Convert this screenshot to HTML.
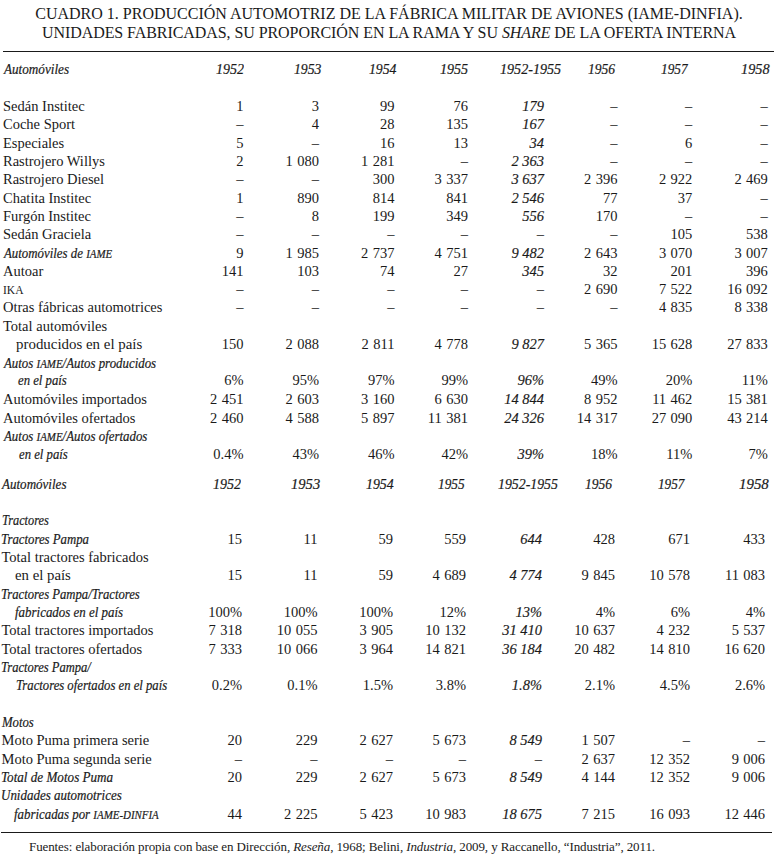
<!DOCTYPE html>
<html><head><meta charset="utf-8"><style>
html,body{margin:0;padding:0;background:#fff;}
body{width:778px;height:862px;position:relative;overflow:hidden;color:#1a1a1a;font-family:"Liberation Serif",serif;}
div{position:absolute;white-space:nowrap;line-height:1;}
.t{left:0;width:778px;text-align:center;font-size:16px;}
.rule{height:0;border-top:1.5px solid #1a1a1a;}
.lab{font-size:14.5px;}
.it{font-style:italic;}
.num{font-size:14.5px;text-align:right;}
.sc{font-size:12.3px;}
.sx{display:inline-block;transform-origin:0 0;}
.ts{letter-spacing:0.8px;}
.tsi{letter-spacing:0px;}
.sxr{-webkit-text-stroke:0.15px #1a1a1a;}
.it{-webkit-text-stroke:0.2px #1a1a1a;}
.foot{left:29px;font-size:13px;letter-spacing:-0.1px;}
</style></head><body>
<div class="t" style="top:5.66px">CUADRO 1. PRODUCCIÓN AUTOMOTRIZ DE LA FÁBRICA MILITAR DE AVIONES (IAME-DINFIA).</div>
<div class="t" style="top:24.66px;letter-spacing:-0.07px">UNIDADES FABRICADAS, SU PROPORCIÓN EN LA RAMA Y SU <i>SHARE</i> DE LA OFERTA INTERNA</div>
<div class="rule" style="top:50.6px;left:3px;width:771px"></div>
<div class="lab" style="top:98.80px;left:3.00px">Sedán Institec</div>
<div class="num" style="top:98.80px;right:534.50px">1</div>
<div class="num" style="top:98.80px;right:459.00px">3</div>
<div class="num" style="top:98.80px;right:383.50px">99</div>
<div class="num" style="top:98.80px;right:310.00px">76</div>
<div class="num it" style="top:98.80px;right:234.00px"><span class="sxr">179</span></div>
<div class="num" style="top:98.80px;right:160.50px">–</div>
<div class="num" style="top:98.80px;right:85.70px">–</div>
<div class="num" style="top:98.80px;right:10.20px">–</div>
<div class="lab" style="top:116.90px;left:3.00px">Coche Sport</div>
<div class="num" style="top:116.90px;right:534.50px">–</div>
<div class="num" style="top:116.90px;right:459.00px">4</div>
<div class="num" style="top:116.90px;right:383.50px">28</div>
<div class="num" style="top:116.90px;right:310.00px">135</div>
<div class="num it" style="top:116.90px;right:234.00px"><span class="sxr">167</span></div>
<div class="num" style="top:116.90px;right:160.50px">–</div>
<div class="num" style="top:116.90px;right:85.70px">–</div>
<div class="num" style="top:116.90px;right:10.20px">–</div>
<div class="lab" style="top:135.80px;left:3.00px">Especiales</div>
<div class="num" style="top:135.80px;right:534.50px">5</div>
<div class="num" style="top:135.80px;right:459.00px">–</div>
<div class="num" style="top:135.80px;right:383.50px">16</div>
<div class="num" style="top:135.80px;right:310.00px">13</div>
<div class="num it" style="top:135.80px;right:234.00px"><span class="sxr">34</span></div>
<div class="num" style="top:135.80px;right:160.50px">–</div>
<div class="num" style="top:135.80px;right:85.70px">6</div>
<div class="num" style="top:135.80px;right:10.20px">–</div>
<div class="lab" style="top:154.00px;left:3.00px">Rastrojero Willys</div>
<div class="num" style="top:154.00px;right:534.50px">2</div>
<div class="num" style="top:154.00px;right:459.00px">1<span class="ts"> </span>080</div>
<div class="num" style="top:154.00px;right:383.50px">1<span class="ts"> </span>281</div>
<div class="num" style="top:154.00px;right:310.00px">–</div>
<div class="num it" style="top:154.00px;right:234.00px"><span class="sxr">2<span class="tsi"> </span>363</span></div>
<div class="num" style="top:154.00px;right:160.50px">–</div>
<div class="num" style="top:154.00px;right:85.70px">–</div>
<div class="num" style="top:154.00px;right:10.20px">–</div>
<div class="lab" style="top:171.80px;left:3.00px">Rastrojero Diesel</div>
<div class="num" style="top:171.80px;right:534.50px">–</div>
<div class="num" style="top:171.80px;right:459.00px">–</div>
<div class="num" style="top:171.80px;right:383.50px">300</div>
<div class="num" style="top:171.80px;right:310.00px">3<span class="ts"> </span>337</div>
<div class="num it" style="top:171.80px;right:234.00px"><span class="sxr">3<span class="tsi"> </span>637</span></div>
<div class="num" style="top:171.80px;right:160.50px">2<span class="ts"> </span>396</div>
<div class="num" style="top:171.80px;right:85.70px">2<span class="ts"> </span>922</div>
<div class="num" style="top:171.80px;right:10.20px">2<span class="ts"> </span>469</div>
<div class="lab" style="top:191.00px;left:3.00px">Chatita Institec</div>
<div class="num" style="top:191.00px;right:534.50px">1</div>
<div class="num" style="top:191.00px;right:459.00px">890</div>
<div class="num" style="top:191.00px;right:383.50px">814</div>
<div class="num" style="top:191.00px;right:310.00px">841</div>
<div class="num it" style="top:191.00px;right:234.00px"><span class="sxr">2<span class="tsi"> </span>546</span></div>
<div class="num" style="top:191.00px;right:160.50px">77</div>
<div class="num" style="top:191.00px;right:85.70px">37</div>
<div class="num" style="top:191.00px;right:10.20px">–</div>
<div class="lab" style="top:208.50px;left:3.00px">Furgón Institec</div>
<div class="num" style="top:208.50px;right:534.50px">–</div>
<div class="num" style="top:208.50px;right:459.00px">8</div>
<div class="num" style="top:208.50px;right:383.50px">199</div>
<div class="num" style="top:208.50px;right:310.00px">349</div>
<div class="num it" style="top:208.50px;right:234.00px"><span class="sxr">556</span></div>
<div class="num" style="top:208.50px;right:160.50px">170</div>
<div class="num" style="top:208.50px;right:85.70px">–</div>
<div class="num" style="top:208.50px;right:10.20px">–</div>
<div class="lab" style="top:227.00px;left:3.00px">Sedán Graciela</div>
<div class="num" style="top:227.00px;right:534.50px">–</div>
<div class="num" style="top:227.00px;right:459.00px">–</div>
<div class="num" style="top:227.00px;right:383.50px">–</div>
<div class="num" style="top:227.00px;right:310.00px">–</div>
<div class="num" style="top:227.00px;right:234.00px">–</div>
<div class="num" style="top:227.00px;right:160.50px">–</div>
<div class="num" style="top:227.00px;right:85.70px">105</div>
<div class="num" style="top:227.00px;right:10.20px">538</div>
<div class="lab it" style="top:246.00px;left:4.20px"><span class="sx" style="transform:scaleX(0.8871)">Automóviles de <span class="sc">IAME</span></span></div>
<div class="num" style="top:246.00px;right:534.50px">9</div>
<div class="num" style="top:246.00px;right:459.00px">1<span class="ts"> </span>985</div>
<div class="num" style="top:246.00px;right:383.50px">2<span class="ts"> </span>737</div>
<div class="num" style="top:246.00px;right:310.00px">4<span class="ts"> </span>751</div>
<div class="num it" style="top:246.00px;right:234.00px"><span class="sxr">9<span class="tsi"> </span>482</span></div>
<div class="num" style="top:246.00px;right:160.50px">2<span class="ts"> </span>643</div>
<div class="num" style="top:246.00px;right:85.70px">3<span class="ts"> </span>070</div>
<div class="num" style="top:246.00px;right:10.20px">3<span class="ts"> </span>007</div>
<div class="lab" style="top:263.90px;left:3.00px">Autoar</div>
<div class="num" style="top:263.90px;right:534.50px">141</div>
<div class="num" style="top:263.90px;right:459.00px">103</div>
<div class="num" style="top:263.90px;right:383.50px">74</div>
<div class="num" style="top:263.90px;right:310.00px">27</div>
<div class="num it" style="top:263.90px;right:234.00px"><span class="sxr">345</span></div>
<div class="num" style="top:263.90px;right:160.50px">32</div>
<div class="num" style="top:263.90px;right:85.70px">201</div>
<div class="num" style="top:263.90px;right:10.20px">396</div>
<div class="lab" style="top:281.90px;left:3.00px"><span style="font-size:11.5px">IKA</span></div>
<div class="num" style="top:281.90px;right:534.50px">–</div>
<div class="num" style="top:281.90px;right:459.00px">–</div>
<div class="num" style="top:281.90px;right:383.50px">–</div>
<div class="num" style="top:281.90px;right:310.00px">–</div>
<div class="num" style="top:281.90px;right:234.00px">–</div>
<div class="num" style="top:281.90px;right:160.50px">2<span class="ts"> </span>690</div>
<div class="num" style="top:281.90px;right:85.70px">7<span class="ts"> </span>522</div>
<div class="num" style="top:281.90px;right:10.20px">16<span class="ts"> </span>092</div>
<div class="lab" style="top:300.40px;left:3.00px">Otras fábricas automotrices</div>
<div class="num" style="top:300.40px;right:534.50px">–</div>
<div class="num" style="top:300.40px;right:459.00px">–</div>
<div class="num" style="top:300.40px;right:383.50px">–</div>
<div class="num" style="top:300.40px;right:310.00px">–</div>
<div class="num" style="top:300.40px;right:234.00px">–</div>
<div class="num" style="top:300.40px;right:160.50px">–</div>
<div class="num" style="top:300.40px;right:85.70px">4<span class="ts"> </span>835</div>
<div class="num" style="top:300.40px;right:10.20px">8<span class="ts"> </span>338</div>
<div class="lab" style="top:318.70px;left:3.00px">Total automóviles</div>
<div class="lab" style="top:336.70px;left:16.00px"><span class="sx" style="transform:scaleX(1.0283)">producidos en el país</span></div>
<div class="num" style="top:336.70px;right:534.50px">150</div>
<div class="num" style="top:336.70px;right:459.00px">2<span class="ts"> </span>088</div>
<div class="num" style="top:336.70px;right:383.50px">2<span class="ts"> </span>811</div>
<div class="num" style="top:336.70px;right:310.00px">4<span class="ts"> </span>778</div>
<div class="num it" style="top:336.70px;right:234.00px"><span class="sxr">9<span class="tsi"> </span>827</span></div>
<div class="num" style="top:336.70px;right:160.50px">5<span class="ts"> </span>365</div>
<div class="num" style="top:336.70px;right:85.70px">15<span class="ts"> </span>628</div>
<div class="num" style="top:336.70px;right:10.20px">27<span class="ts"> </span>833</div>
<div class="lab it" style="top:355.50px;left:4.20px"><span class="sx" style="transform:scaleX(0.8873)">Autos <span class="sc">IAME</span>/Autos producidos</span></div>
<div class="lab it" style="top:373.30px;left:18.00px"><span class="sx" style="transform:scaleX(0.8773)">en el país</span></div>
<div class="num" style="top:373.30px;right:534.50px">6%</div>
<div class="num" style="top:373.30px;right:459.00px">95%</div>
<div class="num" style="top:373.30px;right:383.50px">97%</div>
<div class="num" style="top:373.30px;right:310.00px">99%</div>
<div class="num it" style="top:373.30px;right:234.00px"><span class="sxr">96%</span></div>
<div class="num" style="top:373.30px;right:160.50px">49%</div>
<div class="num" style="top:373.30px;right:85.70px">20%</div>
<div class="num" style="top:373.30px;right:10.20px">11%</div>
<div class="lab" style="top:391.90px;left:3.00px">Automóviles importados</div>
<div class="num" style="top:391.90px;right:534.50px">2<span class="ts"> </span>451</div>
<div class="num" style="top:391.90px;right:459.00px">2<span class="ts"> </span>603</div>
<div class="num" style="top:391.90px;right:383.50px">3<span class="ts"> </span>160</div>
<div class="num" style="top:391.90px;right:310.00px">6<span class="ts"> </span>630</div>
<div class="num it" style="top:391.90px;right:234.00px"><span class="sxr">14<span class="tsi"> </span>844</span></div>
<div class="num" style="top:391.90px;right:160.50px">8<span class="ts"> </span>952</div>
<div class="num" style="top:391.90px;right:85.70px">11<span class="ts"> </span>462</div>
<div class="num" style="top:391.90px;right:10.20px">15<span class="ts"> </span>381</div>
<div class="lab" style="top:410.50px;left:3.00px">Automóviles ofertados</div>
<div class="num" style="top:410.50px;right:534.50px">2<span class="ts"> </span>460</div>
<div class="num" style="top:410.50px;right:459.00px">4<span class="ts"> </span>588</div>
<div class="num" style="top:410.50px;right:383.50px">5<span class="ts"> </span>897</div>
<div class="num" style="top:410.50px;right:310.00px">11<span class="ts"> </span>381</div>
<div class="num it" style="top:410.50px;right:234.00px"><span class="sxr">24<span class="tsi"> </span>326</span></div>
<div class="num" style="top:410.50px;right:160.50px">14<span class="ts"> </span>317</div>
<div class="num" style="top:410.50px;right:85.70px">27<span class="ts"> </span>090</div>
<div class="num" style="top:410.50px;right:10.20px">43<span class="ts"> </span>214</div>
<div class="lab it" style="top:428.50px;left:4.20px"><span class="sx" style="transform:scaleX(0.8878)">Autos <span class="sc">IAME</span>/Autos ofertados</span></div>
<div class="lab it" style="top:447.00px;left:19.20px"><span class="sx" style="transform:scaleX(0.8765)">en el país</span></div>
<div class="num" style="top:447.00px;right:534.50px">0.4%</div>
<div class="num" style="top:447.00px;right:459.00px">43%</div>
<div class="num" style="top:447.00px;right:383.50px">46%</div>
<div class="num" style="top:447.00px;right:310.00px">42%</div>
<div class="num it" style="top:447.00px;right:234.00px"><span class="sxr">39%</span></div>
<div class="num" style="top:447.00px;right:160.50px">18%</div>
<div class="num" style="top:447.00px;right:85.70px">11%</div>
<div class="num" style="top:447.00px;right:10.20px">7%</div>
<div class="lab it" style="top:512.90px;left:1.80px"><span class="sx" style="transform:scaleX(0.8505)">Tractores</span></div>
<div class="lab it" style="top:532.10px;left:1.30px"><span class="sx" style="transform:scaleX(0.8821)">Tractores Pampa</span></div>
<div class="num" style="top:532.10px;right:536.00px">15</div>
<div class="num" style="top:532.10px;right:460.50px">11</div>
<div class="num" style="top:532.10px;right:385.00px">59</div>
<div class="num" style="top:532.10px;right:312.00px">559</div>
<div class="num it" style="top:532.10px;right:236.00px"><span class="sxr">644</span></div>
<div class="num" style="top:532.10px;right:163.00px">428</div>
<div class="num" style="top:532.10px;right:88.00px">671</div>
<div class="num" style="top:532.10px;right:12.90px">433</div>
<div class="lab" style="top:550.00px;left:1.50px">Total tractores fabricados</div>
<div class="lab" style="top:567.90px;left:15.20px"><span class="sx" style="transform:scaleX(1.0189)">en el país</span></div>
<div class="num" style="top:567.90px;right:536.00px">15</div>
<div class="num" style="top:567.90px;right:460.50px">11</div>
<div class="num" style="top:567.90px;right:385.00px">59</div>
<div class="num" style="top:567.90px;right:312.00px">4<span class="ts"> </span>689</div>
<div class="num it" style="top:567.90px;right:236.00px"><span class="sxr">4<span class="tsi"> </span>774</span></div>
<div class="num" style="top:567.90px;right:163.00px">9<span class="ts"> </span>845</div>
<div class="num" style="top:567.90px;right:88.00px">10<span class="ts"> </span>578</div>
<div class="num" style="top:567.90px;right:12.90px">11<span class="ts"> </span>083</div>
<div class="lab it" style="top:586.50px;left:1.30px"><span class="sx" style="transform:scaleX(0.8738)">Tractores Pampa/Tractores</span></div>
<div class="lab it" style="top:604.60px;left:14.70px"><span class="sx" style="transform:scaleX(0.8920)">fabricados en el país</span></div>
<div class="num" style="top:604.60px;right:536.00px">100%</div>
<div class="num" style="top:604.60px;right:460.50px">100%</div>
<div class="num" style="top:604.60px;right:385.00px">100%</div>
<div class="num" style="top:604.60px;right:312.00px">12%</div>
<div class="num it" style="top:604.60px;right:236.00px"><span class="sxr">13%</span></div>
<div class="num" style="top:604.60px;right:163.00px">4%</div>
<div class="num" style="top:604.60px;right:88.00px">6%</div>
<div class="num" style="top:604.60px;right:12.90px">4%</div>
<div class="lab" style="top:623.20px;left:1.50px">Total tractores importados</div>
<div class="num" style="top:623.20px;right:536.00px">7<span class="ts"> </span>318</div>
<div class="num" style="top:623.20px;right:460.50px">10<span class="ts"> </span>055</div>
<div class="num" style="top:623.20px;right:385.00px">3<span class="ts"> </span>905</div>
<div class="num" style="top:623.20px;right:312.00px">10<span class="ts"> </span>132</div>
<div class="num it" style="top:623.20px;right:236.00px"><span class="sxr">31<span class="tsi"> </span>410</span></div>
<div class="num" style="top:623.20px;right:163.00px">10<span class="ts"> </span>637</div>
<div class="num" style="top:623.20px;right:88.00px">4<span class="ts"> </span>232</div>
<div class="num" style="top:623.20px;right:12.90px">5<span class="ts"> </span>537</div>
<div class="lab" style="top:641.70px;left:1.50px">Total tractores ofertados</div>
<div class="num" style="top:641.70px;right:536.00px">7<span class="ts"> </span>333</div>
<div class="num" style="top:641.70px;right:460.50px">10<span class="ts"> </span>066</div>
<div class="num" style="top:641.70px;right:385.00px">3<span class="ts"> </span>964</div>
<div class="num" style="top:641.70px;right:312.00px">14<span class="ts"> </span>821</div>
<div class="num it" style="top:641.70px;right:236.00px"><span class="sxr">36<span class="tsi"> </span>184</span></div>
<div class="num" style="top:641.70px;right:163.00px">20<span class="ts"> </span>482</div>
<div class="num" style="top:641.70px;right:88.00px">14<span class="ts"> </span>810</div>
<div class="num" style="top:641.70px;right:12.90px">16<span class="ts"> </span>620</div>
<div class="lab it" style="top:659.80px;left:1.30px"><span class="sx" style="transform:scaleX(0.8648)">Tractores Pampa/</span></div>
<div class="lab it" style="top:677.70px;left:15.60px"><span class="sx" style="transform:scaleX(0.8755)">Tractores ofertados en el país</span></div>
<div class="num" style="top:677.70px;right:536.00px">0.2%</div>
<div class="num" style="top:677.70px;right:460.50px">0.1%</div>
<div class="num" style="top:677.70px;right:385.00px">1.5%</div>
<div class="num" style="top:677.70px;right:312.00px">3.8%</div>
<div class="num it" style="top:677.70px;right:236.00px"><span class="sxr">1.8%</span></div>
<div class="num" style="top:677.70px;right:163.00px">2.1%</div>
<div class="num" style="top:677.70px;right:88.00px">4.5%</div>
<div class="num" style="top:677.70px;right:12.90px">2.6%</div>
<div class="lab it" style="top:714.90px;left:1.50px"><span class="sx" style="transform:scaleX(0.8778)">Motos</span></div>
<div class="lab" style="top:733.00px;left:1.50px">Moto Puma primera serie</div>
<div class="num" style="top:733.00px;right:536.00px">20</div>
<div class="num" style="top:733.00px;right:460.50px">229</div>
<div class="num" style="top:733.00px;right:385.00px">2<span class="ts"> </span>627</div>
<div class="num" style="top:733.00px;right:312.00px">5<span class="ts"> </span>673</div>
<div class="num it" style="top:733.00px;right:236.00px"><span class="sxr">8<span class="tsi"> </span>549</span></div>
<div class="num" style="top:733.00px;right:163.00px">1<span class="ts"> </span>507</div>
<div class="num" style="top:733.00px;right:88.00px">–</div>
<div class="num" style="top:733.00px;right:12.90px">–</div>
<div class="lab" style="top:751.50px;left:1.50px">Moto Puma segunda serie</div>
<div class="num" style="top:751.50px;right:536.00px">–</div>
<div class="num" style="top:751.50px;right:460.50px">–</div>
<div class="num" style="top:751.50px;right:385.00px">–</div>
<div class="num" style="top:751.50px;right:312.00px">–</div>
<div class="num" style="top:751.50px;right:236.00px">–</div>
<div class="num" style="top:751.50px;right:163.00px">2<span class="ts"> </span>637</div>
<div class="num" style="top:751.50px;right:88.00px">12<span class="ts"> </span>352</div>
<div class="num" style="top:751.50px;right:12.90px">9<span class="ts"> </span>006</div>
<div class="lab it" style="top:769.70px;left:1.30px"><span class="sx" style="transform:scaleX(0.9047)">Total de Motos Puma</span></div>
<div class="num" style="top:769.70px;right:536.00px">20</div>
<div class="num" style="top:769.70px;right:460.50px">229</div>
<div class="num" style="top:769.70px;right:385.00px">2<span class="ts"> </span>627</div>
<div class="num" style="top:769.70px;right:312.00px">5<span class="ts"> </span>673</div>
<div class="num it" style="top:769.70px;right:236.00px"><span class="sxr">8<span class="tsi"> </span>549</span></div>
<div class="num" style="top:769.70px;right:163.00px">4<span class="ts"> </span>144</div>
<div class="num" style="top:769.70px;right:88.00px">12<span class="ts"> </span>352</div>
<div class="num" style="top:769.70px;right:12.90px">9<span class="ts"> </span>006</div>
<div class="lab it" style="top:787.50px;left:1.30px"><span class="sx" style="transform:scaleX(0.8953)">Unidades automotrices</span></div>
<div class="lab it" style="top:806.60px;left:13.90px"><span class="sx" style="transform:scaleX(0.8873)">fabricadas por <span class="sc">IAME-DINFIA</span></span></div>
<div class="num" style="top:806.60px;right:536.00px">44</div>
<div class="num" style="top:806.60px;right:460.50px">2<span class="ts"> </span>225</div>
<div class="num" style="top:806.60px;right:385.00px">5<span class="ts"> </span>423</div>
<div class="num" style="top:806.60px;right:312.00px">10<span class="ts"> </span>983</div>
<div class="num it" style="top:806.60px;right:236.00px"><span class="sxr">18<span class="tsi"> </span>675</span></div>
<div class="num" style="top:806.60px;right:163.00px">7<span class="ts"> </span>215</div>
<div class="num" style="top:806.60px;right:88.00px">16<span class="ts"> </span>093</div>
<div class="num" style="top:806.60px;right:12.90px">12<span class="ts"> </span>446</div>
<div class="lab it" style="top:62.30px;left:4.20px"><span class="sx" style="transform:scaleX(0.9070)">Automóviles</span></div>
<div class="lab it" style="top:62.30px;left:215.60px"><span class="sx" style="transform:scaleX(0.9650)">1952</span></div>
<div class="lab it" style="top:62.30px;left:293.80px"><span class="sx" style="transform:scaleX(0.9469)">1953</span></div>
<div class="lab it" style="top:62.30px;left:368.60px"><span class="sx" style="transform:scaleX(0.9469)">1954</span></div>
<div class="lab it" style="top:62.30px;left:440.30px"><span class="sx" style="transform:scaleX(0.9705)">1955</span></div>
<div class="lab it" style="top:62.30px;left:500.00px"><span class="sx" style="transform:scaleX(0.9722)">1952-1955</span></div>
<div class="lab it" style="top:62.30px;left:587.90px"><span class="sx" style="transform:scaleX(0.9346)">1956</span></div>
<div class="lab it" style="top:62.30px;left:660.50px"><span class="sx" style="transform:scaleX(0.9184)">1957</span></div>
<div class="lab it" style="top:62.30px;left:740.90px"><span class="sx" style="transform:scaleX(0.9835)">1958</span></div>
<div class="lab it" style="top:477.30px;left:2.00px"><span class="sx" style="transform:scaleX(0.8994)">Automóviles</span></div>
<div class="lab it" style="top:477.30px;left:212.80px"><span class="sx" style="transform:scaleX(0.9650)">1952</span></div>
<div class="lab it" style="top:477.30px;left:290.50px"><span class="sx" style="transform:scaleX(1.0060)">1953</span></div>
<div class="lab it" style="top:477.30px;left:365.50px"><span class="sx" style="transform:scaleX(0.9565)">1954</span></div>
<div class="lab it" style="top:477.30px;left:437.50px"><span class="sx" style="transform:scaleX(0.9184)">1955</span></div>
<div class="lab it" style="top:477.30px;left:497.50px"><span class="sx" style="transform:scaleX(0.9530)">1952-1955</span></div>
<div class="lab it" style="top:477.30px;left:585.10px"><span class="sx" style="transform:scaleX(0.9346)">1956</span></div>
<div class="lab it" style="top:477.30px;left:658.00px"><span class="sx" style="transform:scaleX(0.9123)">1957</span></div>
<div class="lab it" style="top:477.30px;left:738.70px"><span class="sx" style="transform:scaleX(1.0263)">1958</span></div>
<div class="rule" style="top:831.6px;left:1.3px;width:771px"></div>
<div class="foot" style="top:840.44px">Fuentes: elaboración propia con base en Dirección, <i>Reseña</i>, 1968; Belini, <i>Industria</i>, 2009, y Raccanello, “Industria”, 2011.</div>
</body></html>
